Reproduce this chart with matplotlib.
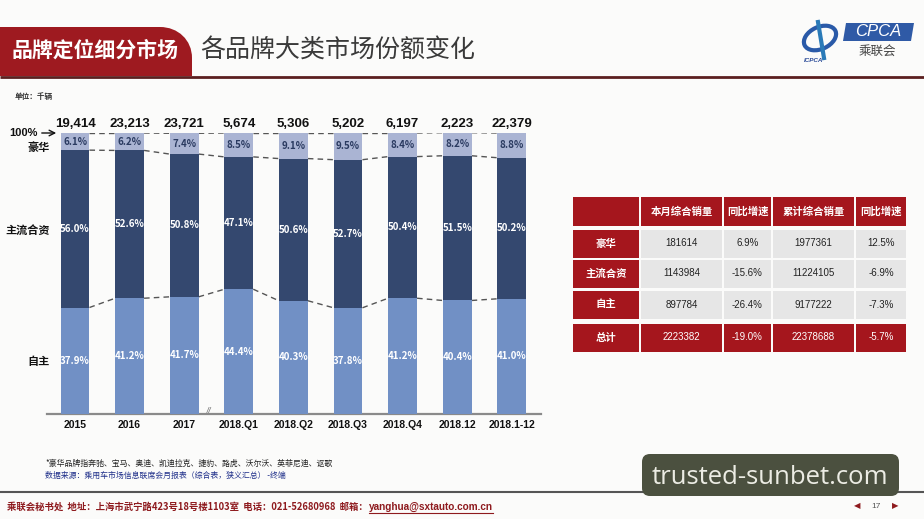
import matplotlib
matplotlib.use("Agg")
import matplotlib.pyplot as plt
from matplotlib.patches import Rectangle, FancyBboxPatch, PathPatch, Polygon, Ellipse
from matplotlib.path import Path

plt.rcParams['font.family'] = ['Noto Sans CJK SC', 'DejaVu Sans']

# ---------------- data ----------------
categories = ['2015', '2016', '2017', '2018.Q1', '2018.Q2', '2018.Q3', '2018.Q4', '2018.12', '2018.1-12']
totals = ['19,414', '23,213', '23,721', '5,674', '5,306', '5,202', '6,197', '2,223', '22,379']
domestic = [37.9, 41.2, 41.7, 44.4, 40.3, 37.8, 41.2, 40.4, 41.0]
joint_venture = [56.0, 52.6, 50.8, 47.1, 50.6, 52.7, 50.4, 51.5, 50.2]
luxury = [6.1, 6.2, 7.4, 8.5, 9.1, 9.5, 8.4, 8.2, 8.8]

table_header = ['本月综合销量', '同比增速', '累计综合销量', '同比增速']
table_rows = ['豪华', '主流合资', '自主', '总计']
month_sales = [181614, 1143984, 897784, 2223382]
month_yoy = [6.9, -15.6, -26.4, -19.0]
cum_sales = [1977361, 11224105, 9177222, 22378688]
cum_yoy = [12.5, -6.9, -7.3, -5.7]

# ---------------- styles ----------------
C_DOM = '#7190c5'
C_JV = '#34486f'
C_LUX = '#aab4d3'
RED = '#a5161d'
BG = '#fbfbfa'
NUM_FONT = ['Liberation Sans', 'DejaVu Sans']

W, H = 924, 519
fig = plt.figure(figsize=(W / 100, H / 100), dpi=100, facecolor=BG)

# background / decoration axes in pixel coordinates
bg = fig.add_axes([0, 0, 1, 1])
bg.set_xlim(0, W)
bg.set_ylim(H, 0)
bg.axis('off')
bg.set_facecolor(BG)

# header tab
verts = [(0, 27), (160, 27), (178, 27), (192, 40), (192, 58), (192, 76), (0, 76), (0, 27)]
codes = [Path.MOVETO, Path.LINETO, Path.CURVE4, Path.CURVE4, Path.CURVE4, Path.LINETO, Path.LINETO, Path.CLOSEPOLY]
bg.add_patch(PathPatch(Path(verts, codes), facecolor='#9e1a20', edgecolor='none'))
bg.text(95, 50, '品牌定位细分市场', color='white', fontsize=15, fontweight='bold',
        ha='center', va='center')
bg.text(200, 50, '各品牌大类市场份额变化', color='#3a3a3a', fontsize=18,
        ha='left', va='center')
bg.plot([0, W], [76.5, 76.5], color='#5b1f1f', lw=2, solid_capstyle='butt')

# logo
bg.add_patch(Ellipse((820, 38), 34, 22, angle=-25, facecolor='none', edgecolor='#2a5aa8', lw=3))
bg.plot([818, 824], [22, 58], color='#2a7ab8', lw=3)
bg.text(814, 60, 'ICPCA', color='#2a4a98', fontsize=4.5, fontstyle='italic', fontweight='bold',
        ha='center', va='center', family=NUM_FONT)
bg.add_patch(Polygon([(846, 23), (914, 23), (911, 41), (843, 41)], closed=True,
                     facecolor='#2f5aa6', edgecolor='none'))
bg.text(878, 32, 'CPCA', color='white', fontsize=12, fontstyle='italic',
        ha='center', va='center', family=NUM_FONT)
bg.text(877, 51, '乘联会', color='#444444', fontsize=9, ha='center', va='center')

# unit
bg.text(15, 96, '单位：千辆', color='#333333', fontsize=5.5, fontweight='bold', ha='left', va='center')

# left labels
bg.text(9, 133, '100%', color='#111111', fontsize=8, fontweight='bold', ha='left', va='center',
        family=NUM_FONT)
bg.annotate('', xy=(59, 133), xytext=(39, 133),
            arrowprops=dict(arrowstyle='->', color='#111111', lw=1.0))
bg.text(50, 147, '豪华', color='#111111', fontsize=8, fontweight='bold', ha='right', va='center')
bg.text(50, 230, '主流合资', color='#111111', fontsize=8, fontweight='bold', ha='right', va='center')
bg.text(50, 362, '自主', color='#111111', fontsize=8, fontweight='bold', ha='right', va='center')

# ---------------- chart axes ----------------
px0, spacing = 75.0, 54.6
left_px, right_px, top_px, bottom_px = 47, 541, 133, 414
ax = fig.add_axes([left_px / W, (H - bottom_px) / H, (right_px - left_px) / W, (bottom_px - top_px) / H])
ax.set_facecolor('none')
ax.set_xlim((left_px - px0) / spacing, (right_px - px0) / spacing)
ax.set_ylim(0, 100)
x = list(range(len(categories)))
bw = 0.53

base_jv = domestic
base_lux = [d + j for d, j in zip(domestic, joint_venture)]
tops = [b + l for b, l in zip(base_lux, luxury)]

ax.bar(x, domestic, width=bw, color=C_DOM, zorder=3)
ax.bar(x, joint_venture, width=bw, bottom=base_jv, color=C_JV, zorder=3)
ax.bar(x, luxury, width=bw, bottom=base_lux, color=C_LUX, zorder=3)

dash = dict(color='#555555', lw=1.0, linestyle=(0, (4, 3)), zorder=2)
for i in range(len(x) - 1):
    for lev in (base_jv, base_lux, tops):
        ax.plot([x[i] + bw / 2, x[i + 1] - bw / 2], [lev[i], lev[i + 1]], **dash)

for i in x:
    ax.text(i, domestic[i] / 2, f'{domestic[i]:.1f}%', color='white', fontsize=7, fontweight='bold',
            ha='center', va='center', zorder=4)
    ax.text(i, base_jv[i] + joint_venture[i] / 2, f'{joint_venture[i]:.1f}%', color='white',
            fontsize=7, fontweight='bold', ha='center', va='center', zorder=4)
    ax.text(i, base_lux[i] + luxury[i] / 2, f'{luxury[i]:.1f}%', color='#2a3a60',
            fontsize=7, fontweight='bold', ha='center', va='center', zorder=4)
    ax.annotate(totals[i], xy=(i, 100), xytext=(0, 2), textcoords='offset points',
                ha='center', va='bottom', fontsize=9.5, fontweight='bold', color='#111111',
                family=NUM_FONT, annotation_clip=False)

for s in ('top', 'right', 'left'):
    ax.spines[s].set_visible(False)
ax.spines['bottom'].set_color('#8a8a8a')
ax.spines['bottom'].set_linewidth(1.6)
ax.set_yticks([])
ax.set_xticks(x)
ax.set_xticklabels(categories, fontsize=7.5, fontweight='bold', color='#111111', family=NUM_FONT)
ax.tick_params(axis='x', length=0, pad=4)

# axis break mark
bg.text(px0 + 2.45 * spacing, 412, '//', color='#777777', fontsize=7, fontstyle='italic',
        ha='center', va='center', family=NUM_FONT)

# ---------------- table ----------------
col_edges = [572, 640, 723, 772, 855, 907]
row_edges = [(197, 226), (229, 258), (259, 288), (290, 319), (323, 352)]
gap = 1.0
for c in range(5):
    x0, x1 = col_edges[c], col_edges[c + 1]
    y0, y1 = row_edges[0]
    bg.add_patch(Rectangle((x0 + gap, y0), x1 - x0 - 2 * gap, y1 - y0, facecolor=RED, edgecolor='none'))
    if c > 0:
        bg.text((x0 + x1) / 2, (y0 + y1) / 2, table_header[c - 1], color='white', fontsize=7.5,
                fontweight='bold', ha='center', va='center')

cell_vals = []
for r in range(4):
    cell_vals.append([f'{month_sales[r]}', f'{month_yoy[r]:.1f}%', f'{cum_sales[r]}', f'{cum_yoy[r]:.1f}%'])

for r in range(4):
    y0, y1 = row_edges[r + 1]
    total_row = (r == 3)
    for c in range(5):
        x0, x1 = col_edges[c], col_edges[c + 1]
        fc = RED if (c == 0 or total_row) else '#e6e6e6'
        bg.add_patch(Rectangle((x0 + gap, y0 + gap / 2), x1 - x0 - 2 * gap, y1 - y0 - gap,
                               facecolor=fc, edgecolor='none'))
        if c == 0:
            bg.text((x0 + x1) / 2, (y0 + y1) / 2, table_rows[r], color='white', fontsize=7.5,
                    fontweight='bold', ha='center', va='center')
        else:
            bg.text((x0 + x1) / 2, (y0 + y1) / 2, cell_vals[r][c - 1],
                    color='white' if total_row else '#222222', fontsize=7,
                    ha='center', va='center', family=NUM_FONT)

# ---------------- footnotes ----------------
bg.text(45, 463, '*豪华品牌指奔驰、宝马、奥迪、凯迪拉克、捷豹、路虎、沃尔沃、英菲尼迪、讴歌',
        color='#222222', fontsize=5.7, ha='left', va='center')
bg.text(45, 475, '数据来源：乘用车市场信息联席会月报表（综合表，狭义汇总） -终端',
        color='#1f2f8a', fontsize=5.7, ha='left', va='center')

bg.plot([0, W], [491.5, 491.5], color='#555555', lw=1.5)
foot = bg.text(7, 507, '乘联会秘书处  地址：上海市武宁路423号18号楼1103室  电话：021-52680968  邮箱：',
               color='#8e1a1e', fontsize=6.75, fontweight='bold', ha='left', va='center')
renderer = fig.canvas.get_renderer()
bb = foot.get_window_extent(renderer=renderer)
x_end = bb.x1 + 1  # display px == data px here (x axis 0..924 over full width)
mail = bg.text(x_end, 507, 'yanghua@sxtauto.com.cn', color='#8e1a1e', fontsize=7.2, fontweight='bold',
               ha='left', va='center', family=NUM_FONT)
bb2 = mail.get_window_extent(renderer=renderer)
bg.plot([bb2.x0, bb2.x1], [512.5, 512.5], color='#8e1a1e', lw=0.8)

# page nav
bg.text(857, 506, '◀', color='#8e1a1e', fontsize=6, ha='center', va='center', family=['DejaVu Sans'])
bg.text(876, 506, '17', color='#555555', fontsize=6, ha='center', va='center', family=NUM_FONT)
bg.text(895, 506, '▶', color='#8e1a1e', fontsize=6, ha='center', va='center', family=['DejaVu Sans'])

# watermark
bg.add_patch(FancyBboxPatch((645, 457), 251, 36, boxstyle='round,pad=3,rounding_size=8',
                            facecolor='#4b503f', edgecolor='none', zorder=5))
bg.text(770, 478, 'trusted-sunbet.com', color='#ecece4', fontsize=18.5, ha='center', va='center',
        family=['Open Sans', 'DejaVu Sans'], zorder=6)

fig.savefig('out.png', dpi=100, facecolor=BG)
